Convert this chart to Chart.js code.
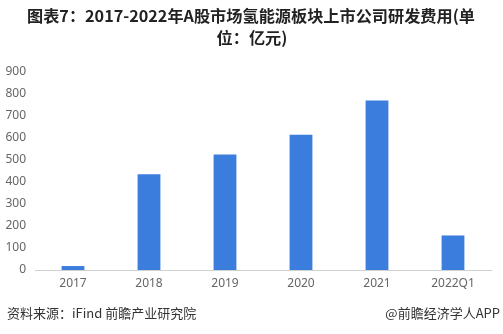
<!DOCTYPE html>
<html>
<head>
<meta charset="utf-8">
<script src="https://cdn.jsdelivr.net/npm/chart.js@4/dist/chart.umd.min.js"></script>
<style>
  html, body { margin: 0; padding: 0; background: #fff; }
  .wrap { position: relative; width: 503px; height: 334px; overflow: hidden; }
  .foot { position: absolute; top: 304px; font: 13px "Noto Sans CJK SC", sans-serif; color: #333; white-space: nowrap; line-height: 18px; }
  .foot--left { left: 7px; }
  .foot--right { right: 3px; }
  canvas { position: absolute; left: 0; top: 0; }
</style>
</head>
<body>
<div class="wrap">
  <canvas id="chart" width="503" height="334"></canvas>
  <div class="foot foot--left">资料来源：iFind 前瞻产业研究院</div>
  <div class="foot foot--right">@前瞻经济学人APP</div>
</div>
<script>
const titleLines = [`图表7：2017-2022年A股市场氢能源板块上市公司研发费用(单`, `位：亿元)`];
const years = [`2017`, `2018`, `2019`, `2020`, `2021`, `2022Q1`];
const costs = [18, 435, 525, 615, 770, 157];
const yTicks = [0, 100, 200, 300, 400, 500, 600, 700, 800, 900];

// title drawn by hand so the first line fits the same span as the source (x 27..475)
const titlePlugin = {
  id: `twoLineTitle`,
  afterDraw(chart) {
    const ctx = chart.ctx;
    ctx.save();
    ctx.font = `bold 16px "Noto Sans CJK SC", sans-serif`;
    ctx.fillStyle = `#222`;
    ctx.textBaseline = `middle`;
    const w = ctx.measureText(titleLines[0]).width;
    const k = 448 / w;

    ctx.save();
    ctx.translate(27, 16);
    ctx.scale(k, 1);
    ctx.textAlign = `left`;
    ctx.fillText(titleLines[0], 0, 0);
    ctx.restore();

    ctx.save();
    ctx.translate(252, 38);
    ctx.scale(k, 1);
    ctx.textAlign = `center`;
    ctx.fillText(titleLines[1], 0, 0);
    ctx.restore();

    ctx.restore();
  }
};

const canvas = document.getElementById(`chart`);

new Chart(canvas, {
  type: `bar`,
  data: {
    labels: years,
    datasets: [{
      data: costs,
      backgroundColor: `#3b7ddd`,
      barPercentage: 0.3,
      categoryPercentage: 1,
    }]
  },
  plugins: [titlePlugin],
  options: {
    responsive: false,
    animation: false,
    layout: {
      padding: {left: 0, right: 12, top: 72, bottom: 40}
    },
    scales: {
      x: {
        grid: {display: false, drawTicks: false},
        border: {display: true, color: `#d0d0d0`, width: 1},
        ticks: {
          color: `#666`,
          padding: 6,
          font: {size: 12, family: `"Noto Sans", sans-serif`},
        },
        afterFit: (axis) => {
          axis.height = 24;
        },
      },
      y: {
        min: 0,
        max: 900,
        afterBuildTicks: (axis) => {
          axis.ticks = yTicks.map((v) => ({value: v}));
        },
        grid: {display: false, drawTicks: false},
        border: {display: false},
        ticks: {
          color: `#666`,
          padding: 9,
          font: {size: 12, family: `"Noto Sans", sans-serif`},
        },
        afterFit: (axis) => {
          axis.width = 35;
        },
      },
    },
    plugins: {
      legend: {display: false},
      tooltip: {enabled: false},
    },
  },
});
</script>
</body>
</html>
